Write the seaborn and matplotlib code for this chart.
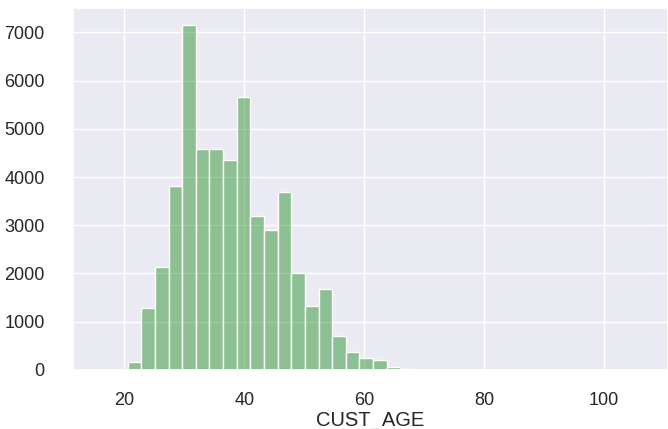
import numpy as np
import pandas as pd
import matplotlib
matplotlib.use("Agg")
import matplotlib.pyplot as plt
import seaborn as sns

# Histogram data (40 bins of CUST_AGE)
bin_edges = list(np.linspace(16.0, 107.0, 41))
bin_counts = [0, 0, 158, 1290, 2127, 3820, 7151, 4587, 4587, 4346,
              5665, 3198, 2894, 3682, 2016, 1332, 1671, 703, 365, 257,
              200, 54, 18, 0, 0, 0, 0, 0, 0, 0,
              0, 0, 0, 0, 0, 0, 0, 0, 0, 0]
x_label = "CUST_AGE"

centers = [(bin_edges[i] + bin_edges[i + 1]) / 2 for i in range(len(bin_counts))]
df = pd.DataFrame({"CUST_AGE": centers, "count": bin_counts})

sns.set_theme(style="darkgrid")
plt.rcParams["font.family"] = ["Liberation Sans", "DejaVu Sans"]

fig = plt.figure(figsize=(6.68, 4.29), dpi=100)
ax = fig.add_axes([73 / 668, (429 - 369.9) / 429, 1 - 73 / 668, (369.9 - 8) / 429])

sns.histplot(data=df, x="CUST_AGE", weights="count", bins=bin_edges,
             color=(0, 0.5, 0), alpha=0.4, edgecolor="white", linewidth=1.0, ax=ax)

ax.set_xlim(11.44, 110.7)
ax.set_ylim(0, 7508)
ax.set_xticks([20, 40, 60, 80, 100])
ax.set_yticks([0, 1000, 2000, 3000, 4000, 5000, 6000, 7000])
ax.set_xlabel(x_label, fontsize=14.5, color=".15", labelpad=1)
ax.set_ylabel("")
ax.tick_params(axis="both", labelsize=13, colors=".15")
ax.tick_params(axis="y", pad=14.4)
ax.tick_params(axis="x", pad=10)

fig.savefig("out.png", dpi=100)
